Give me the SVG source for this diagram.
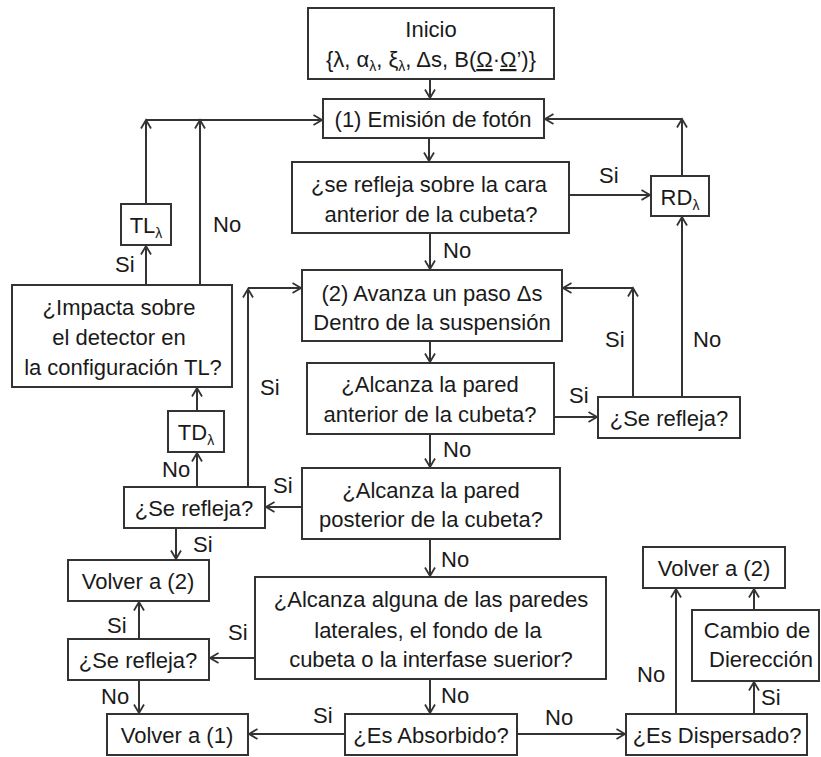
<svg xmlns="http://www.w3.org/2000/svg" width="821" height="757" viewBox="0 0 821 757">
<style>
.box{fill:#fff;stroke:#333;stroke-width:2}
.t{font-family:"Liberation Sans",Arial,sans-serif;font-size:22px;fill:#1a1a1a;text-anchor:middle}
.lb{font-family:"Liberation Sans",Arial,sans-serif;font-size:22px;fill:#1a1a1a}
.sub{font-size:14px}
.c{fill:none;stroke:#333;stroke-width:2;marker-end:url(#ah)}
.ln{fill:none;stroke:#333;stroke-width:2}
</style>
<defs>
<marker id="ah" markerUnits="userSpaceOnUse" markerWidth="12" markerHeight="12" refX="9.5" refY="6" orient="auto">
<path d="M1,1 L9.5,6 L1,11" fill="none" stroke="#333" stroke-width="1.8"/>
</marker>
</defs>
<rect width="821" height="757" fill="#fff"/>
<g id="connectors">
<path class="c" d="M430,79 V98"/>
<path class="c" d="M429,138 V161"/>
<path class="c" d="M570,195 H650"/>
<path class="c" d="M682,176 V119"/>
<path class="c" d="M682,119 H545"/>
<path class="c" d="M430,233 V269"/>
<path class="c" d="M430,341 V362"/>
<path class="c" d="M554,417 H597"/>
<path class="c" d="M633,397 V288"/>
<path class="c" d="M633,288 H563"/>
<path class="c" d="M682,397 V217"/>
<path class="c" d="M430,434 V467"/>
<path class="c" d="M302,507 H266"/>
<path class="c" d="M197,487 V453"/>
<path class="c" d="M197,411 V388"/>
<path class="c" d="M146,285 V246"/>
<path class="c" d="M146,204 V120"/>
<path class="c" d="M146,120 H322"/>
<path class="c" d="M200,285 V120"/>
<path class="c" d="M248,487 V289"/>
<path class="c" d="M248,288 H301"/>
<path class="c" d="M176,528 V559"/>
<path class="c" d="M255,658 H210"/>
<path class="c" d="M139,639 V602"/>
<path class="c" d="M139,680 V713"/>
<path class="c" d="M430,539 V576"/>
<path class="c" d="M430,679 V713"/>
<path class="c" d="M345,734 H249"/>
<path class="c" d="M517,734 H625"/>
<path class="c" d="M676,714 V589"/>
<path class="c" d="M754,714 V682"/>
<path class="c" d="M754,610 V589"/>
<g id="labels">
<text class="lb" x="599" y="183">Si</text>
<text class="lb" x="443" y="258">No</text>
<text class="lb" x="569" y="403">Si</text>
<text class="lb" x="605" y="347">Si</text>
<text class="lb" x="693" y="347">No</text>
<text class="lb" x="443" y="457">No</text>
<text class="lb" x="273" y="493">Si</text>
<text class="lb" x="162" y="477">No</text>
<text class="lb" x="115" y="272">Si</text>
<text class="lb" x="213" y="232">No</text>
<text class="lb" x="260" y="395">Si</text>
<text class="lb" x="193" y="552">Si</text>
<text class="lb" x="228" y="640">Si</text>
<text class="lb" x="107" y="633">Si</text>
<text class="lb" x="101" y="704">No</text>
<text class="lb" x="441" y="567">No</text>
<text class="lb" x="441" y="703">No</text>
<text class="lb" x="313" y="723">Si</text>
<text class="lb" x="545" y="725">No</text>
<text class="lb" x="637" y="682">No</text>
<text class="lb" x="761" y="705">Si</text>
</g>
</g>
<g id="inicio">
<rect class="box" x="308" y="8" width="246" height="71"/>
<text class="t" x="431" y="37">Inicio</text>
<text class="t" x="431" y="67">{λ, α<tspan class="sub" dy="4">λ</tspan><tspan dy="-4">, ξ</tspan><tspan class="sub" dy="4">λ</tspan><tspan dy="-4">, Δs, B(</tspan><tspan text-decoration="underline">Ω</tspan>·<tspan text-decoration="underline">Ω</tspan>’)}</text>
</g>
<g id="emision">
<rect class="box" x="323" y="99" width="221" height="39"/>
<text class="t" x="433" y="127">(1) Emisión de fotón</text>
</g>
<g id="refleja-cara">
<rect class="box" x="292" y="162" width="277" height="71"/>
<text class="t" x="429" y="192">¿se refleja sobre la cara</text>
<text class="t" x="431" y="222">anterior de la cubeta?</text>
</g>
<g id="rd">
<rect class="box" x="651" y="176" width="58" height="40"/>
<text class="t" x="680" y="205">RD<tspan class="sub" dy="5">λ</tspan></text>
</g>
<g id="tl">
<rect class="box" x="121" y="204" width="50" height="41"/>
<text class="t" x="146" y="233">TL<tspan class="sub" dy="5">λ</tspan></text>
</g>
<g id="impacta">
<rect class="box" x="12" y="285" width="220" height="102"/>
<text class="t" x="119" y="315">¿Impacta sobre</text>
<text class="t" x="119" y="345">el detector en</text>
<text class="t" x="123" y="375">la configuración TL?</text>
</g>
<g id="avanza">
<rect class="box" x="302" y="270" width="260" height="71"/>
<text class="t" x="432" y="301">(2) Avanza un paso Δs</text>
<text class="t" x="432" y="330">Dentro de la suspensión</text>
</g>
<g id="alcanza-anterior">
<rect class="box" x="307" y="363" width="247" height="71"/>
<text class="t" x="430" y="392">¿Alcanza la pared</text>
<text class="t" x="430" y="422">anterior de la cubeta?</text>
</g>
<g id="refleja-der">
<rect class="box" x="598" y="397" width="142" height="41"/>
<text class="t" x="669" y="426">¿Se refleja?</text>
</g>
<g id="td">
<rect class="box" x="168" y="411" width="56" height="41"/>
<text class="t" x="196" y="440">TD<tspan class="sub" dy="5">λ</tspan></text>
</g>
<g id="alcanza-posterior">
<rect class="box" x="302" y="468" width="258" height="71"/>
<text class="t" x="431" y="498">¿Alcanza la pared</text>
<text class="t" x="431" y="527">posterior de la cubeta?</text>
</g>
<g id="refleja-izq">
<rect class="box" x="124" y="487" width="141" height="41"/>
<text class="t" x="194" y="516">¿Se refleja?</text>
</g>
<g id="volver2-izq">
<rect class="box" x="68" y="560" width="141" height="41"/>
<text class="t" x="138" y="589">Volver a (2)</text>
</g>
<g id="alcanza-paredes">
<rect class="box" x="255" y="577" width="351" height="102"/>
<text class="t" x="431" y="607">¿Alcanza alguna de las paredes</text>
<text class="t" x="428" y="638">laterales, el fondo de la</text>
<text class="t" x="431" y="667">cubeta o la interfase suerior?</text>
</g>
<g id="refleja-inf">
<rect class="box" x="68" y="639" width="141" height="41"/>
<text class="t" x="138" y="668">¿Se refleja?</text>
</g>
<g id="volver1">
<rect class="box" x="107" y="714" width="141" height="41"/>
<text class="t" x="177" y="743">Volver a (1)</text>
</g>
<g id="absorbido">
<rect class="box" x="345" y="714" width="172" height="41"/>
<text class="t" x="431" y="743">¿Es Absorbido?</text>
</g>
<g id="dispersado">
<rect class="box" x="626" y="714" width="181" height="41"/>
<text class="t" x="717" y="743">¿Es Dispersado?</text>
</g>
<g id="volver2-der">
<rect class="box" x="643" y="547" width="142" height="41"/>
<text class="t" x="714" y="576">Volver a (2)</text>
</g>
<g id="cambio">
<rect class="box" x="692" y="610" width="127" height="71"/>
<text class="t" x="757" y="638">Cambio de</text>
<text class="t" x="761" y="667">Dierección</text>
</g>
</svg>
